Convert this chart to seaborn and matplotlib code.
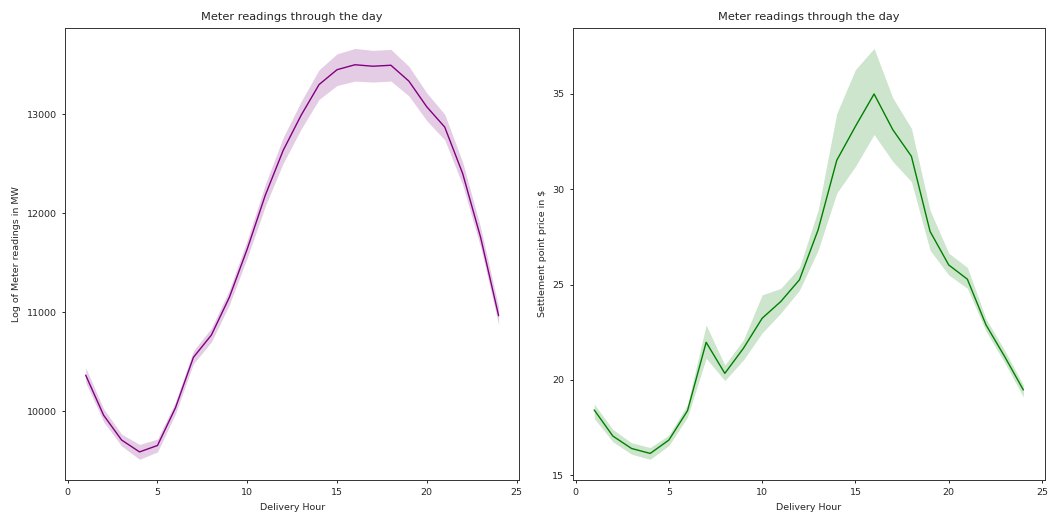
import numpy as np
import pandas as pd
import matplotlib
matplotlib.use("Agg")
import matplotlib.pyplot as plt
import seaborn as sns

hours = list(range(1, 25))

meter_mean = [10365, 9960, 9710, 9590, 9655, 10035, 10545, 10770, 11150, 11640,
              12180, 12635, 12990, 13300, 13450, 13500, 13485, 13495, 13335, 13075,
              12870, 12400, 11755, 10965]
meter_half = [75, 65, 60, 75, 65, 60, 65, 70, 75, 90,
              110, 130, 140, 150, 160, 165, 160, 160, 150, 140,
              130, 115, 100, 90]

price_mean = [18.42, 17.05, 16.40, 16.14, 16.84, 18.38, 21.97, 20.34, 21.66, 23.23,
              24.11, 25.25, 27.87, 31.52, 33.30, 35.00, 33.13, 31.73, 27.79, 26.03,
              25.28, 22.88, 21.22, 19.47]
price_low = [17.98, 16.75, 16.10, 15.83, 16.55, 18.05, 21.13, 19.96, 21.05, 22.46,
             23.50, 24.70, 26.80, 29.80, 31.20, 32.87, 31.46, 30.40, 26.80, 25.50,
             24.80, 22.55, 20.90, 19.10]
price_high = [18.73, 17.40, 16.70, 16.45, 17.10, 18.70, 22.88, 20.78, 22.10, 24.46,
              24.80, 25.90, 28.90, 33.98, 36.28, 37.39, 34.80, 33.20, 28.90, 26.65,
              25.90, 23.20, 21.55, 19.73]

meter_low = [m - h for m, h in zip(meter_mean, meter_half)]
meter_high = [m + h for m, h in zip(meter_mean, meter_half)]

sns.set_style("ticks")
plt.rcParams['font.family'] = ['DejaVu Sans']
plt.rcParams['font.size'] = 6.8
plt.rcParams['axes.titlesize'] = 8.2
plt.rcParams['axes.labelsize'] = 6.8
plt.rcParams['xtick.labelsize'] = 6.8
plt.rcParams['ytick.labelsize'] = 6.8
plt.rcParams['axes.linewidth'] = 0.7
plt.rcParams['xtick.major.width'] = 0.7
plt.rcParams['ytick.major.width'] = 0.7
plt.rcParams['xtick.major.size'] = 2.5
plt.rcParams['ytick.major.size'] = 2.5
plt.rcParams['axes.edgecolor'] = '#333333'

fig = plt.figure(figsize=(10.49, 5.16), dpi=100)
ax1 = fig.add_axes([0.062, 0.070, 0.433, 0.876])
ax2 = fig.add_axes([0.546, 0.070, 0.450, 0.876])

df1 = pd.DataFrame({"hour": hours, "mean": meter_mean})
sns.lineplot(data=df1, x="hour", y="mean", color="purple", linewidth=1.0, ax=ax1)
ax1.fill_between(hours, meter_low, meter_high, color="purple", alpha=0.2, linewidth=0)
ax1.set_title("Meter readings through the day")
ax1.set_xlabel("Delivery Hour")
ax1.set_ylabel("Log of Meter readings in MW")
ax1.set_xticks([0, 5, 10, 15, 20, 25])
ax1.set_yticks([10000, 11000, 12000, 13000])

df2 = pd.DataFrame({"hour": hours, "mean": price_mean})
sns.lineplot(data=df2, x="hour", y="mean", color="green", linewidth=1.0, ax=ax2)
ax2.fill_between(hours, price_low, price_high, color="green", alpha=0.2, linewidth=0)
ax2.set_title("Meter readings through the day")
ax2.set_xlabel("Delivery Hour")
ax2.set_ylabel("Settlement point price in $")
ax2.set_xticks([0, 5, 10, 15, 20, 25])
ax2.set_yticks([15, 20, 25, 30, 35])

fig.savefig("out.png", dpi=100)
